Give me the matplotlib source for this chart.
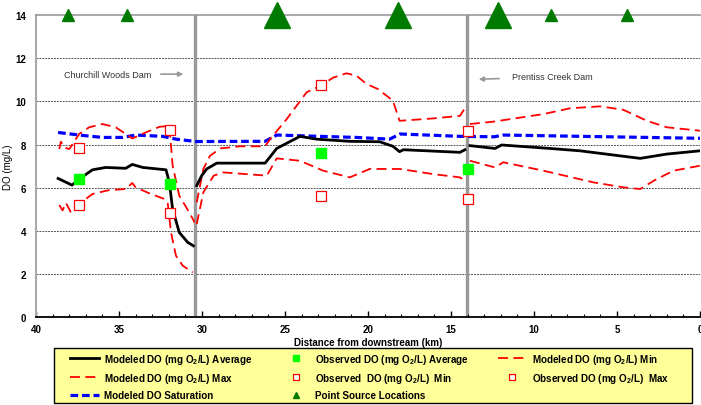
import numpy as np
import matplotlib.pyplot as plt
from matplotlib.ticker import MultipleLocator
from matplotlib.lines import Line2D
from matplotlib.patches import Rectangle

plt.rcParams['font.family'] = ['Liberation Sans', 'DejaVu Sans']
plt.rcParams['mathtext.fontset'] = 'custom'
plt.rcParams['mathtext.rm'] = 'Liberation Sans:bold'

# modeled DO average (km, mg/L)
avg_km = [38.67, 37.83, 37.4, 36.6, 35.8, 34.6, 34.2, 33.57, 32.17, 31.97, 31.77, 31.37, 30.86, 30.52, 30.4,
          30.32, 30.02, 29.72, 29.11, 26.2, 25.5, 24.1, 23.1, 21.1, 19.3, 18.5, 18.1, 17.87, 14.46, 14.16, 14.05,
          13.86, 12.35, 11.95, 9.04, 7.23, 3.6, 2.0, 0.0]
avg_do = [6.43, 6.12, 6.4, 6.83, 6.94, 6.9, 7.08, 6.94, 6.83, 6.25, 5.0, 3.93, 3.47, 3.31, np.nan,
          6.1, 6.56, 6.87, 7.14, 7.14, 7.82, 8.38, 8.25, 8.15, 8.13, 7.92, 7.67, 7.76, 7.64, 7.76, np.nan,
          7.95, 7.82, 7.98, 7.82, 7.71, 7.36, 7.56, 7.71]

# modeled DO max
max_km = [38.6, 38.5, 38.3, 38.0, 37.4, 36.8, 36.0, 35.2, 34.6, 34.2, 33.4, 32.57, 31.97, 31.77, 31.37, 30.77, 30.45,
          30.4, 30.32, 29.92, 29.52, 28.9, 27.7, 26.2, 25.9, 24.9, 23.7, 22.8, 22.1, 21.3, 20.7, 20.08, 19.4, 18.5,
          18.1, 16.07, 14.46, 14.2, 14.05, 13.86, 12.45, 9.44, 7.83, 6.02, 4.62, 3.2, 2.0, 0.0]
max_do = [7.79, 8.13, 7.87, 7.79, 8.49, 8.8, 8.95, 8.8, 8.49, 8.28, 8.56, 8.82, 8.87, 7.02, 5.63, 4.86, 4.4,
          np.nan, 5.32, 6.87, 7.48, 7.82, 7.92, 7.92, 8.25, 9.18, 10.42, 10.75, 11.1, 11.3, 11.19, 10.8, 10.57, 10.03,
          9.1, 9.21, 9.33, 9.64, np.nan, 8.95, 9.06, 9.41, 9.68, 9.77, 9.61, 9.1, 8.8, 8.64]

# modeled DO min
min_km = [38.6, 38.4, 38.2, 37.9, 37.4, 36.6, 35.6, 34.6, 34.2, 34.0, 33.2, 32.27, 32.07, 31.87, 31.57, 31.16, 30.56,
          30.4, 30.32, 29.92, 29.3, 28.7, 26.1, 25.5, 24.1, 22.7, 21.1, 19.9, 18.07, 16.07, 14.46, 14.16, 14.05,
          13.86, 12.35, 11.85, 9.44, 6.43, 4.62, 3.6, 2.8, 1.6, 0.0]
min_do = [5.2, 4.95, 5.3, 4.86, 5.25, 5.71, 5.89, 5.94, 6.22, 6.02, 5.75, 5.48, 5.32, 3.93, 2.85, 2.39, 2.08,
          np.nan, 4.32, 5.79, 6.56, 6.71, 6.56, 7.36, 7.25, 6.79, 6.48, 6.87, 6.87, 6.63, 6.48, 6.32, np.nan,
          7.25, 6.94, 7.18, 6.79, 6.25, 6.02, 5.94, 6.32, 6.79, 7.02]

# modeled DO saturation
sat_km = [38.67, 37.4, 36.0, 34.8, 34.0, 32.37, 31.57, 30.36, 26.2, 25.5, 20.7, 18.7, 18.07, 14.46, 12.4, 11.85, 0.0]
sat_do = [8.56, 8.44, 8.33, 8.33, 8.44, 8.38, 8.25, 8.14, 8.15, 8.44, 8.33, 8.25, 8.49, 8.38, 8.36, 8.44, 8.29]

# observed data
obs_km = [37.4, 31.93, 22.83, 14.0]
obs_avg = [6.4, 6.17, 7.6, 6.87]
obs_min = [5.2, 4.83, 5.6, 5.48]
obs_max = [7.82, 8.69, 10.75, 8.61]

# point sources (large = major discharge)
ps_km = [38.1, 34.5, 25.5, 18.2, 12.2, 9.0, 4.4]
ps_big = [False, False, True, True, True, False, False]

dam_km = [30.4, 14.05]
dam_names = ['Churchill Woods Dam', 'Prentiss Creek Dam']

fig = plt.figure(figsize=(7.01, 4.06), dpi=100)
ax = fig.add_axes([0.0514, 0.216, 0.9472, 0.7446])

for y in range(2, 14, 2):
    ax.axhline(y, color='#555555', lw=0.7, ls=(0, (2, 1)), zorder=0)

for d in dam_km:
    ax.plot([d, d], [0, 14], color='#999999', lw=2.4, zorder=1)

ax.plot(sat_km, sat_do, color='#0000FF', lw=2.3, dashes=(2.4, 1.2), zorder=2)
ax.plot(max_km, max_do, color='#FF0000', lw=1.3, dashes=(5.5, 3), zorder=3)
ax.plot(min_km, min_do, color='#FF0000', lw=1.3, dashes=(5.5, 3), zorder=3)
ax.plot(avg_km, avg_do, color='black', lw=2.0, zorder=4)

ax.plot(obs_km, obs_avg, 's', color='#00FF00', ms=7, mec='#00FF00', zorder=5)
ax.plot(obs_km, obs_min, 's', mfc='white', mec='#FF0000', ms=7, mew=0.9, zorder=5)
ax.plot(obs_km, obs_max, 's', mfc='white', mec='#FF0000', ms=7, mew=0.9, zorder=5)

for k, big in zip(ps_km, ps_big):
    ax.plot(k, 14, '^', color='#007A00', ms=19 if big else 8.5, clip_on=False, zorder=6)

# dam labels
ax.annotate('', xy=(30.96, 11.26), xytext=(32.65, 11.26),
            arrowprops=dict(arrowstyle='-|>', color='#999999', lw=1.2, mutation_scale=7))
ax.text(35.66, 11.26, dam_names[0], fontsize=6.5, ha='center', va='center', color='#333333')
ax.annotate('', xy=(13.5, 11.02), xytext=(11.93, 11.06),
            arrowprops=dict(arrowstyle='-|>', color='#999999', lw=1.2, mutation_scale=7))
ax.text(11.33, 11.15, dam_names[1], fontsize=6.5, ha='left', va='center', color='#333333')

ax.set_xlim(40, 0)
ax.set_ylim(0, 14)
ax.xaxis.set_major_locator(MultipleLocator(5))
ax.xaxis.set_minor_locator(MultipleLocator(1))
ax.yaxis.set_major_locator(MultipleLocator(2))
ax.tick_params(axis='x', which='major', direction='in', length=4, width=1, labelsize=7, pad=5)
ax.tick_params(axis='x', which='minor', direction='in', length=2.5, width=0.8)
ax.tick_params(axis='y', length=0, labelsize=7, pad=7)
for lab in ax.get_xticklabels() + ax.get_yticklabels():
    lab.set_fontweight('bold')

ax.spines['right'].set_visible(False)
ax.spines['top'].set_color('#999999')
ax.spines['top'].set_linewidth(1.2)
ax.spines['left'].set_color('#aaaaaa')
ax.spines['left'].set_linewidth(1.5)
ax.spines['bottom'].set_linewidth(1.3)

ax.set_xlabel('Distance from downstream (km)', fontsize=7, fontweight='bold', labelpad=2)
ax.set_ylabel('DO (mg/L)', fontsize=7, labelpad=2)

# yellow legend box
fig.add_artist(Rectangle((0.077, 0.0049), 0.910, 0.1355, transform=fig.transFigure,
                         facecolor='#FFFF99', edgecolor='black', lw=1.0, zorder=0))

h_avg = Line2D([], [], color='black', lw=2.0)
h_max = Line2D([], [], color='#FF0000', lw=1.3, dashes=(5.5, 3))
h_min = Line2D([], [], color='#FF0000', lw=1.3, dashes=(5.5, 3))
h_sat = Line2D([], [], color='#0000FF', lw=2.3, dashes=(2.4, 1.2))
h_oavg = Line2D([], [], ls='none', marker='s', color='#00FF00', ms=5)
h_omin = Line2D([], [], ls='none', marker='s', mfc='white', mec='#FF0000', ms=4.5, mew=0.9)
h_omax = Line2D([], [], ls='none', marker='s', mfc='white', mec='#FF0000', ms=4.5, mew=0.9)
h_ps = Line2D([], [], ls='none', marker='^', color='#007A00', ms=5)

handles = [h_avg, h_max, h_sat, h_oavg, h_omin, h_ps, h_min, h_omax]
labels = [r'Modeled DO (mg O$_2$/L) Average', r'Modeled DO (mg O$_2$/L) Max', 'Modeled DO Saturation',
          r'Observed DO (mg O$_2$/L) Average', r'Observed  DO (mg O$_2$/L)  Min', 'Point Source Locations',
          r'Modeled DO (mg O$_2$/L) Min', r'Observed DO (mg O$_2$/L)  Max']
leg = fig.legend(handles, labels, ncol=3, loc='upper left', bbox_to_anchor=(70 / 701, 0.1315),
                 frameon=False, handlelength=2.95, borderpad=0, borderaxespad=0,
                 labelspacing=0.53, columnspacing=2.9, handletextpad=0.5,
                 prop={'weight': 'bold', 'size': 7.1})

fig.savefig('out.png', dpi=100)
